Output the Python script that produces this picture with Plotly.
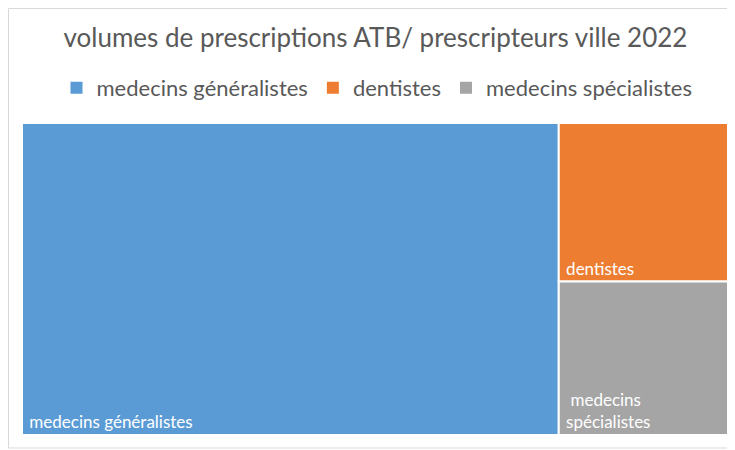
import plotly.graph_objects as go

# volumes de prescriptions ATB par type de prescripteur (parts estimées, %)
prescripteurs = ["medecins généralistes", "dentistes", "medecins spécialistes"]
volumes = [75.6, 12.4, 12.0]
etiquettes = [" medecins généralistes", " dentistes", "  medecins<br> spécialistes"]
couleurs = ["#5B9BD5", "#ED7D31", "#A5A5A5"]

# la page ajoute 8px de marge au body : positions décalées en conséquence
L, R, T, B = 14, 11, 115, 23
W, H = 735 - L - R, 450 - T - B

fig = go.Figure()

fig.add_trace(go.Treemap(
    labels=prescripteurs,
    parents=["", "", ""],
    values=volumes,
    text=etiquettes,
    texttemplate="%{text}",
    textposition="bottom left",
    textfont=dict(family="Lato, Open Sans, sans-serif", size=17, color="white"),
    marker=dict(colors=couleurs, line=dict(color="white", width=2),
                pad=dict(t=0, l=0, r=0, b=0)),
    tiling=dict(packing="squarify", pad=0),
    pathbar=dict(visible=False),
    sort=True,
    hoverinfo="label+value",
))

# entrées de légende
for nom, c in zip(prescripteurs, couleurs):
    fig.add_trace(go.Scatter(
        x=[None], y=[None], mode="markers", name=nom,
        marker=dict(symbol="square", size=10, color=c),
    ))

fig.update_layout(
    width=735,
    height=450,
    paper_bgcolor="white",
    plot_bgcolor="white",
    margin=dict(l=L, r=R, t=T, b=B, autoexpand=False),
    title=dict(
        text="volumes de prescriptions ATB/ prescripteurs ville 2022",
        x=(369 - L) / W, xanchor="center", y=1 - 30 / 450, yanchor="middle",
        font=dict(family="Lato, Open Sans, sans-serif", size=26, color="#595959"),
    ),
    legend=dict(
        orientation="h", x=(369 - L) / W, xanchor="center",
        y=1 + (T - 80) / H, yanchor="middle",
        font=dict(family="Lato, Open Sans, sans-serif", size=22, color="#595959"),
        itemsizing="constant", itemwidth=30,
    ),
    xaxis=dict(visible=False),
    yaxis=dict(visible=False),
    shapes=[dict(
        type="rect", xref="paper", yref="paper",
        x0=(0.5 - L) / W, x1=(725 - L) / W,
        y0=-(440 - (T + H)) / H, y1=1 + (T - 0.5) / H,
        line=dict(color="#D9D9D9", width=1), layer="below",
    )],
)

fig.write_html("out.html")
